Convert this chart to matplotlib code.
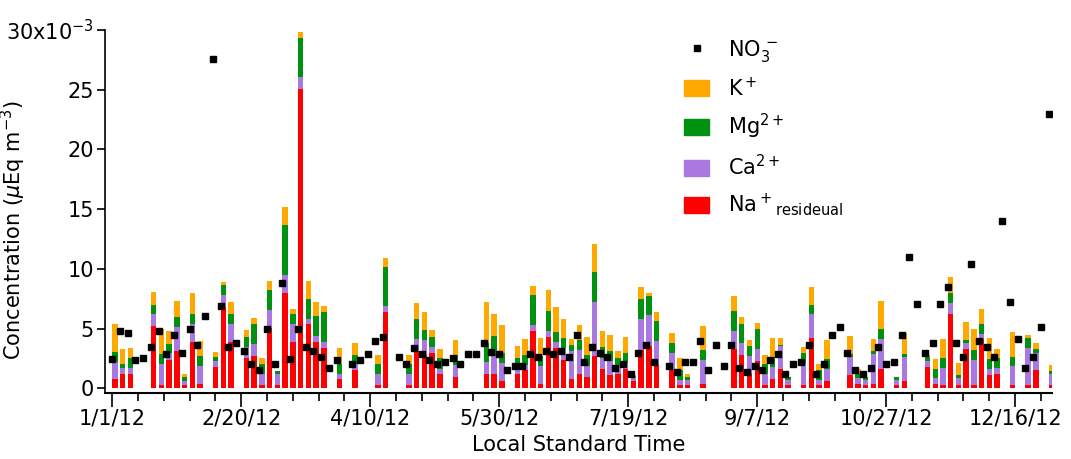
import numpy as np
import matplotlib.pyplot as plt
from matplotlib.patches import Patch
from matplotlib.lines import Line2D

# sample day (days since 1/1/12) for the filter samples with cation data
bar_day = [0, 3, 6, 15, 18, 21, 24, 27, 30, 33, 39, 42, 45, 51, 54, 57, 60, 63, 66, 69,
           72, 75, 78, 81, 87, 93, 102, 105, 114, 117, 120, 123, 126, 132, 144, 147, 150,
           156, 159, 162, 165, 168, 171, 174, 177, 180, 183, 186, 189, 192, 195, 198, 201,
           204, 207, 210, 216, 219, 222, 228, 240, 243, 246, 249, 252, 255, 258, 261, 267,
           270, 273, 276, 285, 288, 291, 294, 297, 303, 306, 315, 318, 321, 324, 327, 330,
           333, 336, 339, 342, 348, 354, 357, 363]

# concentrations in 10^-3 ueq/m3
na = [0.75, 1.2, 1.2, 5.19, 0.28, 2.4, 3.1, 0.28, 3.85, 0.33, 1.81, 6.8, 3.88, 2.51, 2.7,
      0.28, 5.02, 0.28, 7.98, 3.88, 25.1, 5.36, 3.88, 3.4, 0.75, 1.51, 0.28, 6.36, 0.28,
      3.12, 2.82, 2.98, 1.2, 0.92, 1.2, 1.2, 0.61, 1.2, 1.51, 4.77, 0.33, 4.3, 3.4, 2.34,
      0.75, 1.23, 0.92, 2.7, 1.65, 1.09, 1.23, 1.65, 0.61, 3.18, 3.54, 1.92, 1.51, 0.31,
      0.31, 0.33, 3.26, 2.76, 1.2, 2.26, 0.31, 0.75, 1.65, 0.31, 0.31, 4.18, 0.31, 0.61,
      1.09, 0.33, 0.31, 0.33, 1.65, 0.31, 0.61, 1.81, 0.33, 0.31, 6.19, 0.31, 3.26, 0.31,
      4.1, 1.09, 1.23, 0.31, 0.31, 1.51, 0.31]
ca = [1.48, 0.47, 0.5, 1.0, 1.78, 0.53, 2.06, 0.33, 1.51, 1.51, 0.48, 1.01, 1.48, 0.95,
      0.98, 0.95, 1.54, 0.89, 1.48, 1.48, 1.0, 0.47, 0.5, 0.48, 0.48, 0.49, 0.89, 0.5,
      0.89, 1.04, 1.2, 0.48, 0.45, 1.06, 1.0, 1.5, 1.48, 0.39, 0.41, 0.5, 1.54, 0.5, 0.5,
      1.04, 2.37, 1.98, 0.95, 4.52, 0.92, 1.23, 0.75, 0.5, 0.31, 2.62, 2.57, 2.04, 1.47,
      0.36, 0.36, 2.01, 1.51, 1.01, 1.5, 1.0, 0.86, 1.04, 1.89, 0.36, 1.84, 2.01, 0.39,
      0.98, 1.5, 0.51, 0.36, 2.52, 2.51, 0.36, 2.01, 0.48, 0.51, 1.37, 0.98, 0.53, 0.51,
      2.03, 0.42, 0.56, 0.5, 1.53, 3.04, 1.47, 0.86]
mg = [0.84, 0.33, 0.87, 0.81, 0.79, 0.81, 0.81, 0.31, 0.83, 0.84, 0.3, 0.84, 0.86, 0.86,
      1.68, 0.78, 1.67, 0.28, 4.18, 0.83, 3.2, 1.62, 1.67, 2.51, 0.83, 0.82, 0.83, 3.29,
      0.83, 1.67, 0.83, 0.84, 0.89, 0.78, 1.62, 1.68, 0.84, 0.98, 0.9, 2.51, 0.84, 1.64,
      0.84, 0.83, 0.53, 0.83, 0.89, 2.52, 0.92, 0.8, 0.59, 0.83, 0.11, 1.68, 1.64, 1.67,
      0.84, 0.84, 0.28, 0.84, 1.67, 1.64, 0.84, 1.68, 0.83, 0.83, 0.09, 0.25, 0.83, 0.81,
      0.81, 0.84, 0.26, 0.39, 0.25, 0.25, 0.83, 0.25, 0.28, 0.3, 0.81, 0.84, 0.83, 0.28,
      0.25, 0.84, 0.84, 0.78, 0.84, 0.81, 0.83, 0.28, 0.28]
k = [2.34, 1.26, 0.78, 1.06, 2.09, 1.03, 1.31, 0.28, 1.81, 1.28, 0.48, 0.25, 1.03, 0.53,
     0.5, 0.5, 0.72, 0.0, 1.56, 0.48, 0.5, 1.53, 1.2, 0.5, 1.34, 1.0, 0.79, 0.78, 0.76,
     1.28, 1.57, 0.55, 0.78, 1.28, 3.4, 1.81, 2.34, 1.0, 1.28, 0.76, 1.53, 1.82, 2.04,
     1.56, 0.51, 1.29, 1.54, 2.31, 1.28, 1.32, 0.53, 1.32, 0.11, 1.0, 0.25, 0.76, 0.78,
     1.06, 0.28, 2.04, 1.29, 0.56, 0.53, 0.5, 0.79, 1.56, 0.61, 0.0, 0.51, 1.51, 0.49,
     1.59, 1.53, 0.36, 0.0, 1.06, 2.32, 0.0, 1.76, 0.23, 0.78, 1.58, 1.32, 0.97, 1.53,
     1.81, 1.25, 1.81, 0.75, 2.06, 0.26, 0.51, 0.5]

no3_day = [0, 3, 6, 9, 12, 15, 18, 21, 24, 27, 30, 33, 36, 39, 42, 45, 48, 51, 54, 57,
           60, 63, 66, 69, 72, 75, 78, 81, 84, 87, 93, 96, 99, 102, 105, 111, 114, 117,
           120, 123, 126, 129, 132, 135, 138, 141, 144, 147, 150, 153, 156, 159, 162, 165,
           168, 171, 174, 177, 180, 183, 186, 189, 192, 195, 198, 201, 204, 207, 210, 216,
           219, 222, 225, 228, 231, 234, 237, 240, 243, 246, 249, 252, 255, 258, 261, 264,
           267, 270, 273, 276, 279, 282, 285, 288, 291, 294, 297, 300, 303, 306, 309, 312,
           315, 318, 321, 324, 327, 330, 333, 336, 339, 342, 345, 348, 351, 354, 357, 360,
           363]
no3 = [2.48, 4.8, 4.63, 2.37, 2.51, 3.49, 4.8, 2.85, 4.46, 2.98, 4.94, 3.63, 6.08, 27.6,
       6.89, 3.46, 3.79, 3.12, 2.01, 1.53, 4.94, 2.01, 8.84, 2.48, 4.94, 3.46, 3.12, 2.62,
       1.67, 2.34, 2.0, 2.34, 2.85, 3.96, 4.27, 2.65, 2.0, 3.35, 2.85, 2.34, 2.0, 2.2, 2.51,
       2.0, 2.85, 2.85, 3.82, 3.04, 2.85, 1.53, 1.87, 1.87, 2.85, 2.62, 3.12, 2.85, 3.12,
       2.62, 4.46, 2.2, 3.49, 2.98, 2.65, 1.67, 2.0, 1.23, 2.98, 3.63, 2.2, 1.87, 1.37, 2.2,
       2.2, 3.96, 1.53, 3.63, 1.87, 3.63, 1.67, 1.37, 1.87, 1.53, 2.34, 2.85, 1.23, 2.0, 2.2,
       3.63, 1.23, 2.0, 4.46, 5.13, 2.98, 1.53, 1.23, 1.67, 3.49, 2.0, 2.2, 4.46, 11.0, 7.06,
       2.98, 3.79, 7.06, 8.51, 3.79, 2.65, 10.4, 3.96, 3.49, 2.65, 14.0, 7.22, 4.13, 1.7,
       2.65, 5.1, 23.0]

tick_days = [0, 50, 100, 150, 200, 250, 300, 350]
tick_labels = ['1/1/12', '2/20/12', '4/10/12', '5/30/12', '7/19/12', '9/7/12',
               '10/27/12', '12/16/12']

c_na = '#ff0000'
c_ca = '#a979e1'
c_mg = '#009110'
c_k = '#ffa800'

fig = plt.figure(figsize=(10.71, 4.59), dpi=100)
ax = fig.add_axes([0.098, 0.1438, 0.884, 0.7908])

x = np.array(bar_day)
na_a, ca_a, mg_a, k_a = map(np.array, (na, ca, mg, k))
w = 2.1
ax.bar(x, na_a, width=w, align='edge', color=c_na, linewidth=0)
ax.bar(x, ca_a, width=w, align='edge', bottom=na_a, color=c_ca, linewidth=0)
ax.bar(x, mg_a, width=w, align='edge', bottom=na_a + ca_a, color=c_mg, linewidth=0)
ax.bar(x, k_a, width=w, align='edge', bottom=na_a + ca_a + mg_a, color=c_k, linewidth=0)
ax.plot(no3_day, no3, 's', color='black', markersize=5, linestyle='none', zorder=5)

ax.set_xlim(-2.8, 364.2)
ax.set_ylim(-0.4, 30)
ax.spines['top'].set_visible(False)
ax.spines['right'].set_visible(False)
ax.spines['left'].set_linewidth(1.2)
ax.spines['bottom'].set_linewidth(1.5)

ax.set_xticks(tick_days)
ax.set_xticklabels(tick_labels)
ax.set_xticks(np.arange(0, 365, 10), minor=True)
ax.tick_params(axis='x', which='major', length=10, width=1.2, labelsize=15, pad=1)
ax.tick_params(axis='x', which='minor', length=6, width=1.2)

ax.set_yticks([0, 5, 10, 15, 20, 25, 30])
ax.set_yticklabels(['0', '5', '10', '15', '20', '25', r'30x10$^{-3}$'])
ax.tick_params(axis='y', length=6, width=1.2, labelsize=15, pad=2)

ax.set_xlabel('Local Standard Time', fontsize=15, labelpad=5)
ax.set_ylabel(r'Concentration ($\mu$Eq m$^{-3}$)', fontsize=15)
ax.yaxis.set_label_coords(-0.081, 0.45)

handles = [
    Line2D([], [], marker='s', color='black', linestyle='none', markersize=5),
    Patch(color=c_k),
    Patch(color=c_mg),
    Patch(color=c_ca),
    Patch(color=c_na),
]
labels = [r'NO$_3^{\,-}$', r'K$^+$', r'Mg$^{2+}$', r'Ca$^{2+}$',
          r'Na$^+$$_{\mathregular{resideual}}$']
ax.legend(handles, labels, loc='upper left', bbox_to_anchor=(0.592, 1.03),
          frameon=False, fontsize=15, handlelength=1.2, handleheight=0.8,
          labelspacing=0.6, handletextpad=0.9)

fig.savefig('out.png', dpi=100)
